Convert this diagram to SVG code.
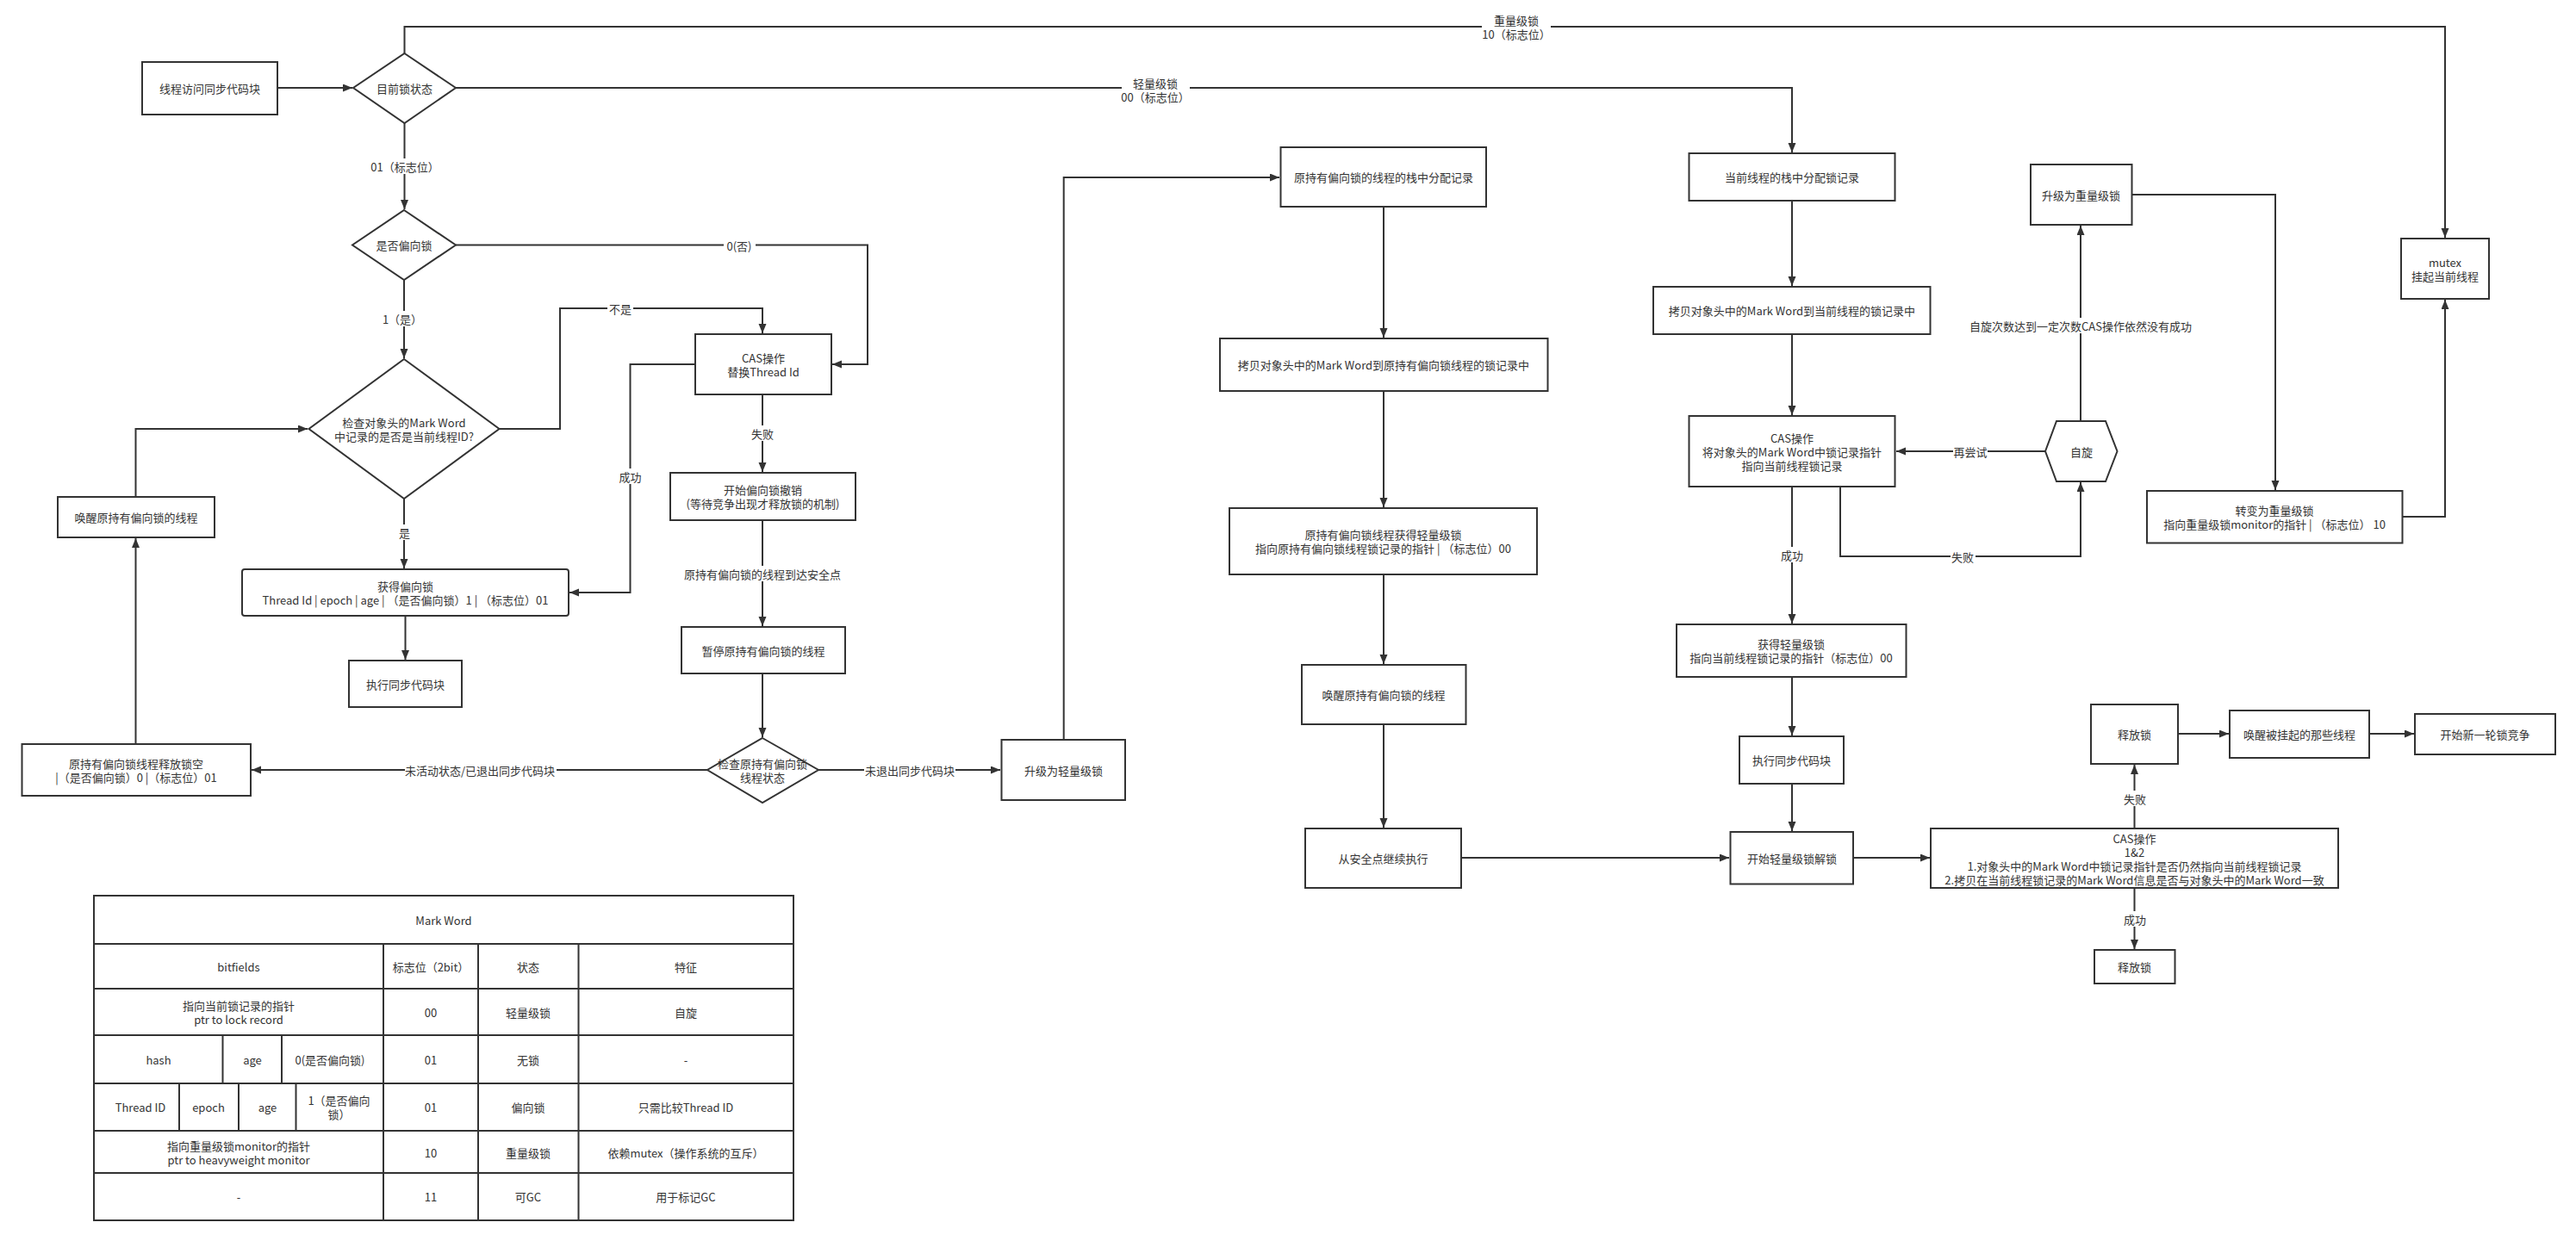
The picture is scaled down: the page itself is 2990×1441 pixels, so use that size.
<svg xmlns="http://www.w3.org/2000/svg" width="2990" height="1441" viewBox="0 0 2990 1441">
<style>
.bg{fill:#fff}
.n rect,.n polygon,.box{fill:#fff;stroke:#333;stroke-width:2}
.e{fill:none;stroke:#333;stroke-width:2}
.ea{fill:none;stroke:#333;stroke-width:2;marker-end:url(#arr)}
.lb{fill:#fff;stroke:none}
text{font-family:"Noto Sans CJK SC","Noto Sans",sans-serif;font-size:13px;fill:#333;text-anchor:middle;dominant-baseline:central}
.tl{fill:none;stroke:#333;stroke-width:2}
</style>
<defs>
<marker id="arr" markerWidth="12" markerHeight="10" refX="11" refY="4.5" orient="auto" markerUnits="userSpaceOnUse">
<path d="M0,0 L11,4.5 L0,9 z" fill="#333"/>
</marker>
</defs>
<rect class="bg" x="0" y="0" width="2990" height="1441"/>

<g id="connectors">
<path class="ea" d="M322,102 L409,102"/>
<path class="ea" d="M469.5,62 L469.5,31 L2838,31 L2838,276"/>
<path class="ea" d="M529,102 L2080,102 L2080,177"/>
<path class="ea" d="M469.5,143 L469.5,243"/>
<path class="ea" d="M529,284.5 L1007,284.5 L1007,423 L966,423"/>
<path class="ea" d="M469,325 L469,416"/>
<path class="ea" d="M579.5,498 L650,498 L650,358 L885,358 L885,387"/>
<path class="ea" d="M807,423 L731.5,423 L731.5,688 L661,688"/>
<path class="ea" d="M469,579 L469,660"/>
<path class="ea" d="M470.5,715 L470.5,766"/>
<path class="ea" d="M885,458 L885,548"/>
<path class="ea" d="M885,604 L885,727"/>
<path class="ea" d="M885,782 L885,856"/>
<path class="ea" d="M821,894 L292,894"/>
<path class="ea" d="M950,894 L1161,894"/>
<path class="ea" d="M157.5,864 L157.5,625"/>
<path class="ea" d="M157.5,577 L157.5,498 L357,498"/>
<path class="ea" d="M1234.7,859 L1234.7,206 L1485,206"/>
<path class="ea" d="M1606,240 L1606,392"/>
<path class="ea" d="M1606,454 L1606,589"/>
<path class="ea" d="M1606,667 L1606,771"/>
<path class="ea" d="M1606,841 L1606,961"/>
<path class="ea" d="M1696,996 L2007,996"/>
<path class="ea" d="M2080,233 L2080,332"/>
<path class="ea" d="M2080,388 L2080,482"/>
<path class="ea" d="M2080,565 L2080,724"/>
<path class="ea" d="M2080,786 L2080,854"/>
<path class="ea" d="M2080,910 L2080,965"/>
<path class="ea" d="M2151,996 L2240,996"/>
<path class="ea" d="M2374,524 L2201,524"/>
<path class="ea" d="M2136,565 L2136,646 L2415,646 L2415,560"/>
<path class="ea" d="M2415,489 L2415,262"/>
<path class="ea" d="M2475,226 L2641,226 L2641,569"/>
<path class="ea" d="M2789,600 L2838,600 L2838,348"/>
<path class="ea" d="M2477.5,962 L2477.5,888"/>
<path class="ea" d="M2477.5,1031 L2477.5,1102"/>
<path class="ea" d="M2528,852 L2587,852"/>
<path class="ea" d="M2750,852 L2802,852"/>

<rect class="lb" x="1720" y="14" width="80" height="34"/>
<text x="1760" y="23">重量级锁</text><text x="1760" y="39">10（标志位）</text>
<rect class="lb" x="1302" y="87" width="79" height="34"/>
<text x="1341" y="96">轻量级锁</text><text x="1341" y="112">00（标志位）</text>
<rect class="lb" x="430" y="184" width="80" height="18"/>
<text x="470" y="193">01（标志位）</text>
<rect class="lb" x="840" y="276" width="37" height="18"/>
<text x="858" y="285">0(否)</text>
<rect class="lb" x="442" y="361" width="50" height="18"/>
<text x="467" y="370">1（是）</text>
<rect class="lb" x="705" y="349" width="30" height="18"/>
<text x="720" y="358">不是</text>
<rect class="lb" x="461" y="609" width="17" height="18"/>
<text x="469.5" y="618">是</text>
<rect class="lb" x="717" y="544" width="29" height="18"/>
<text x="731.5" y="553">成功</text>
<rect class="lb" x="871" y="494" width="29" height="18"/>
<text x="885" y="503">失败</text>
<rect class="lb" x="794" y="657" width="184" height="18"/>
<text x="885" y="666">原持有偏向锁的线程到达安全点</text>
<rect class="lb" x="470" y="885" width="176" height="18"/>
<text x="557" y="894">未活动状态/已退出同步代码块</text>
<rect class="lb" x="1003" y="885" width="106" height="18"/>
<text x="1056" y="894">未退出同步代码块</text>
<rect class="lb" x="2286" y="369" width="259" height="18"/>
<text x="2415" y="378">自旋次数达到一定次数CAS操作依然没有成功</text>
<rect class="lb" x="2267" y="515" width="40" height="18"/>
<text x="2287" y="524">再尝试</text>
<rect class="lb" x="2264" y="637" width="29" height="18"/>
<text x="2278" y="646">失败</text>
<rect class="lb" x="2066" y="635" width="29" height="18"/>
<text x="2080" y="644">成功</text>
<rect class="lb" x="2464" y="918" width="29" height="18"/>
<text x="2478" y="927">失败</text>
<rect class="lb" x="2464" y="1058" width="29" height="18"/>
<text x="2478" y="1067">成功</text>
</g>

<g id="n-start" class="n"><rect x="165" y="72" width="157" height="61"/><text x="243.5" y="102">线程访问同步代码块</text></g>
<g id="n-state" class="n"><polygon points="469.5,62 529,102 469.5,143 410,102"/><text x="469.5" y="102">目前锁状态</text></g>
<g id="n-isbiased" class="n"><polygon points="469,244 529,284.5 469,325 409,284.5"/><text x="469" y="284.5">是否偏向锁</text></g>
<g id="n-checkid" class="n"><polygon points="469,417 579.5,498 469,579 358.5,498"/><text x="469" y="490">检查对象头的Mark Word</text><text x="469" y="506">中记录的是否是当前线程ID?</text></g>
<g id="n-cas1" class="n"><rect x="807" y="388" width="158" height="70"/><text x="886" y="415">CAS操作</text><text x="886" y="431">替换Thread Id</text></g>
<g id="n-gotbiased" class="n"><rect x="281" y="661" width="379" height="54" rx="3"/><text x="470.5" y="680">获得偏向锁</text><text x="470.5" y="696">Thread Id | epoch | age | （是否偏向锁）1 | （标志位）01</text></g>
<g id="n-exec1" class="n"><rect x="405" y="767" width="131" height="54"/><text x="470.5" y="794">执行同步代码块</text></g>
<g id="n-wake1" class="n"><rect x="67" y="577" width="182" height="47"/><text x="158" y="600.5">唤醒原持有偏向锁的线程</text></g>
<g id="n-release0" class="n"><rect x="25.5" y="864" width="265.5" height="60"/><text x="158" y="886">原持有偏向锁线程释放锁空</text><text x="158" y="902">|（是否偏向锁）0 |（标志位）01</text></g>
<g id="n-revoke" class="n"><rect x="778" y="549" width="215" height="55"/><text x="885.5" y="568.5">开始偏向锁撤销</text><text x="885.5" y="584.5">(等待竞争出现才释放锁的机制)</text></g>
<g id="n-pause" class="n"><rect x="791" y="728" width="190" height="54"/><text x="886" y="755">暂停原持有偏向锁的线程</text></g>
<g id="n-checkstate" class="n"><polygon points="885,857 950,894 885,932 821,894"/><text x="885" y="886">检查原持有偏向锁</text><text x="885" y="902">线程状态</text></g>
<g id="n-upgrade-light" class="n"><rect x="1162.5" y="859" width="143.5" height="70"/><text x="1234.5" y="894">升级为轻量级锁</text></g>
<g id="n-alloc-orig" class="n"><rect x="1486.5" y="171" width="238.5" height="69"/><text x="1606" y="205.5">原持有偏向锁的线程的栈中分配记录</text></g>
<g id="n-copy-orig" class="n"><rect x="1416" y="393" width="380.5" height="61"/><text x="1606" y="423.5">拷贝对象头中的Mark Word到原持有偏向锁线程的锁记录中</text></g>
<g id="n-orig-light" class="n"><rect x="1427" y="590" width="357" height="77"/><text x="1605.5" y="620.5">原持有偏向锁线程获得轻量级锁</text><text x="1605.5" y="636.5">指向原持有偏向锁线程锁记录的指针 | （标志位）00</text></g>
<g id="n-wake2" class="n"><rect x="1511" y="772" width="190.5" height="69"/><text x="1606" y="806.5">唤醒原持有偏向锁的线程</text></g>
<g id="n-resume" class="n"><rect x="1515" y="962" width="181" height="69"/><text x="1605.5" y="996.5">从安全点继续执行</text></g>
<g id="n-alloc-cur" class="n"><rect x="1960.5" y="178" width="239" height="55"/><text x="2080" y="205.5">当前线程的栈中分配锁记录</text></g>
<g id="n-copy-cur" class="n"><rect x="1919" y="333" width="321.5" height="55"/><text x="2080" y="360.5">拷贝对象头中的Mark Word到当前线程的锁记录中</text></g>
<g id="n-cas2" class="n"><rect x="1960.5" y="483" width="239" height="82"/><text x="2080" y="508">CAS操作</text><text x="2080" y="524">将对象头的Mark Word中锁记录指针</text><text x="2080" y="540">指向当前线程锁记录</text></g>
<g id="n-spin" class="n"><polygon points="2374,524 2387,489 2444,489 2457.5,524 2444,559 2387,559"/><text x="2416" y="524">自旋</text></g>
<g id="n-upgrade-heavy" class="n"><rect x="2357" y="191" width="117.5" height="70"/><text x="2415.5" y="226">升级为重量级锁</text></g>
<g id="n-mutex" class="n"><rect x="2787" y="277" width="102" height="70"/><text x="2838" y="304">mutex</text><text x="2838" y="320">挂起当前线程</text></g>
<g id="n-heavy" class="n"><rect x="2492" y="570" width="296.5" height="60.5"/><text x="2640" y="592">转变为重量级锁</text><text x="2640" y="608">指向重量级锁monitor的指针 | （标志位） 10</text></g>
<g id="n-gotlight" class="n"><rect x="1946" y="725" width="266.5" height="61"/><text x="2079" y="747.5">获得轻量级锁</text><text x="2079" y="763.5">指向当前线程锁记录的指针（标志位）00</text></g>
<g id="n-exec2" class="n"><rect x="2019" y="855" width="121" height="55"/><text x="2079.5" y="882.5">执行同步代码块</text></g>
<g id="n-unlock" class="n"><rect x="2008.5" y="966" width="142.5" height="60.5"/><text x="2080" y="996">开始轻量级锁解锁</text></g>
<g id="n-cas3" class="n"><rect x="2241" y="962" width="473" height="69"/><text x="2477.5" y="973">CAS操作</text><text x="2477.5" y="989">1&amp;2</text><text x="2477.5" y="1005">1.对象头中的Mark Word中锁记录指针是否仍然指向当前线程锁记录</text><text x="2477.5" y="1021">2.拷贝在当前线程锁记录的Mark Word信息是否与对象头中的Mark Word一致</text></g>
<g id="n-release1" class="n"><rect x="2427" y="818" width="101" height="69"/><text x="2477.5" y="852.5">释放锁</text></g>
<g id="n-wakeall" class="n"><rect x="2588" y="825" width="162" height="55"/><text x="2669" y="852.5">唤醒被挂起的那些线程</text></g>
<g id="n-newround" class="n"><rect x="2803" y="829" width="163" height="47"/><text x="2884.5" y="852.5">开始新一轮锁竞争</text></g>
<g id="n-release2" class="n"><rect x="2431" y="1103" width="93.5" height="39"/><text x="2477.5" y="1122.5">释放锁</text></g>

<g id="markword-table">
<rect class="box" x="109" y="1040" width="812" height="377"/>
<path class="tl" d="M109,1096 H921 M109,1148 H921 M109,1202 H921 M109,1258 H921 M109,1313 H921 M109,1362 H921"/>
<path class="tl" d="M445,1096 V1417 M555,1096 V1417 M671.5,1096 V1417"/>
<path class="tl" d="M258.5,1202 V1258 M327,1202 V1258 M208,1258 V1313 M277,1258 V1313 M343.5,1258 V1313"/>
<text x="515" y="1068">Mark Word</text>
<text x="277" y="1122">bitfields</text><text x="500" y="1122">标志位（2bit）</text><text x="613" y="1122">状态</text><text x="796" y="1122">特征</text>
<text x="277" y="1167">指向当前锁记录的指针</text><text x="277" y="1183">ptr to lock record</text><text x="500" y="1175">00</text><text x="613" y="1175">轻量级锁</text><text x="796" y="1175">自旋</text>
<text x="184" y="1230">hash</text><text x="293" y="1230">age</text><text x="383" y="1230">0(是否偏向锁)</text><text x="500" y="1230">01</text><text x="613" y="1230">无锁</text><text x="796" y="1230">-</text>
<text x="163" y="1285.5">Thread ID</text><text x="242" y="1285.5">epoch</text><text x="310.5" y="1285.5">age</text><text x="393.5" y="1277.5">1（是否偏向</text><text x="393.5" y="1293.5">锁）</text><text x="500" y="1285.5">01</text><text x="613" y="1285.5">偏向锁</text><text x="796" y="1285.5">只需比较Thread ID</text>
<text x="277" y="1330">指向重量级锁monitor的指针</text><text x="277" y="1346">ptr to heavyweight monitor</text><text x="500" y="1338">10</text><text x="613" y="1338">重量级锁</text><text x="796" y="1338">依赖mutex（操作系统的互斥）</text>
<text x="277" y="1389.5">-</text><text x="500" y="1389.5">11</text><text x="613" y="1389.5">可GC</text><text x="796" y="1389.5">用于标记GC</text>
</g>
</svg>
